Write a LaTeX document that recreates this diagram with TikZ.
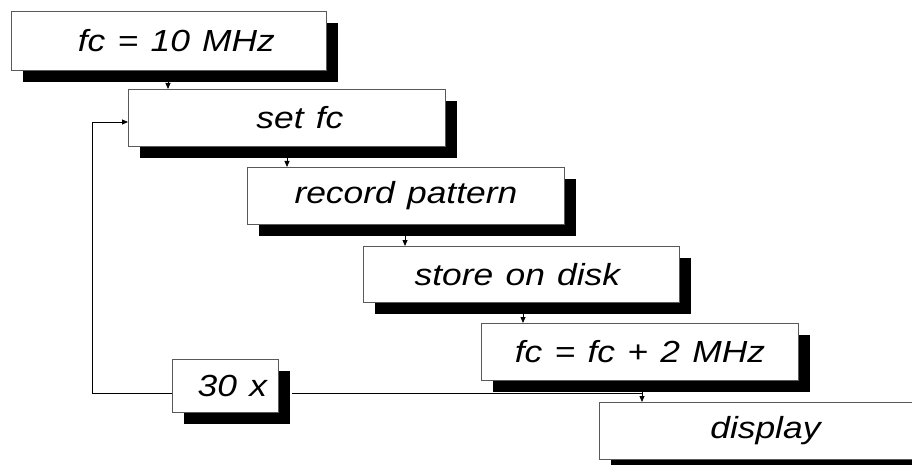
\documentclass[tikz,border=0pt]{standalone}
\usepackage{fontspec}
\newfontfamily\boxfont{Liberation Sans}[FakeStretch=1.16,WordSpace=1.25]
\usetikzlibrary{shadows,arrows.meta}
\begin{document}
\begin{tikzpicture}[x=1pt,y=-1pt,
  stepbox/.style={draw=black!65, line width=0.8pt, fill=white, anchor=north west,
    minimum width=317pt, minimum height=57pt, inner sep=0pt,
    font=\boxfont\itshape\fontsize{30.5}{36}\selectfont,
    drop shadow={shadow xshift=12pt, shadow yshift=-12pt, fill=black, opacity=1}},
  conn/.style={draw=black, line width=0.8pt},
  arr/.style={conn, -{Triangle[length=6pt,width=5pt]}}
]
\useasboundingbox (0,0) rectangle (912,465);
\node[stepbox, minimum width=315pt, minimum height=59pt] (b1) at (11,11) {\hspace*{15pt}fc = 10 MHz};
\node[stepbox] (b2) at (128,89) {\hspace*{26pt}set fc};
\node[stepbox] (b3) at (247,167) {record pattern};
\node[stepbox, minimum width=316pt, minimum height=56pt] (b4) at (363,246) {store on disk\hspace*{8pt}};
\node[stepbox] (b5) at (481,323) {fc = fc + 2 MHz};
\node[stepbox] (b6) at (599,402) {\hspace*{15pt}display};
\node[stepbox, minimum width=106pt, minimum height=53pt] (x30) at (172,359) {\hspace*{14pt}30 x};
\coordinate (ax1) at (168,0);
\coordinate (ax2) at (287,0);
\coordinate (ax3) at (405,0);
\coordinate (ax4) at (523,0);
\coordinate (ax5) at (642,0);
\coordinate (lx) at (92,393);
\coordinate (ly) at (0,122);
\draw[arr] (b1.south -| ax1) -- (b2.north -| ax1);
\draw[arr] (b2.south -| ax2) -- (b3.north -| ax2);
\draw[arr] (b3.south -| ax3) -- (b4.north -| ax3);
\draw[arr] (b4.south -| ax4) -- (b5.north -| ax4);
\draw[arr] (b5.south -| ax5) -- (b6.north -| ax5);
\draw[arr] (x30.west |- lx) -- (lx) |- (b2.west |- ly);
\draw[conn] ([xshift=13pt]x30.east |- lx) -- (ax5 |- lx);
\end{tikzpicture}
\end{document}
